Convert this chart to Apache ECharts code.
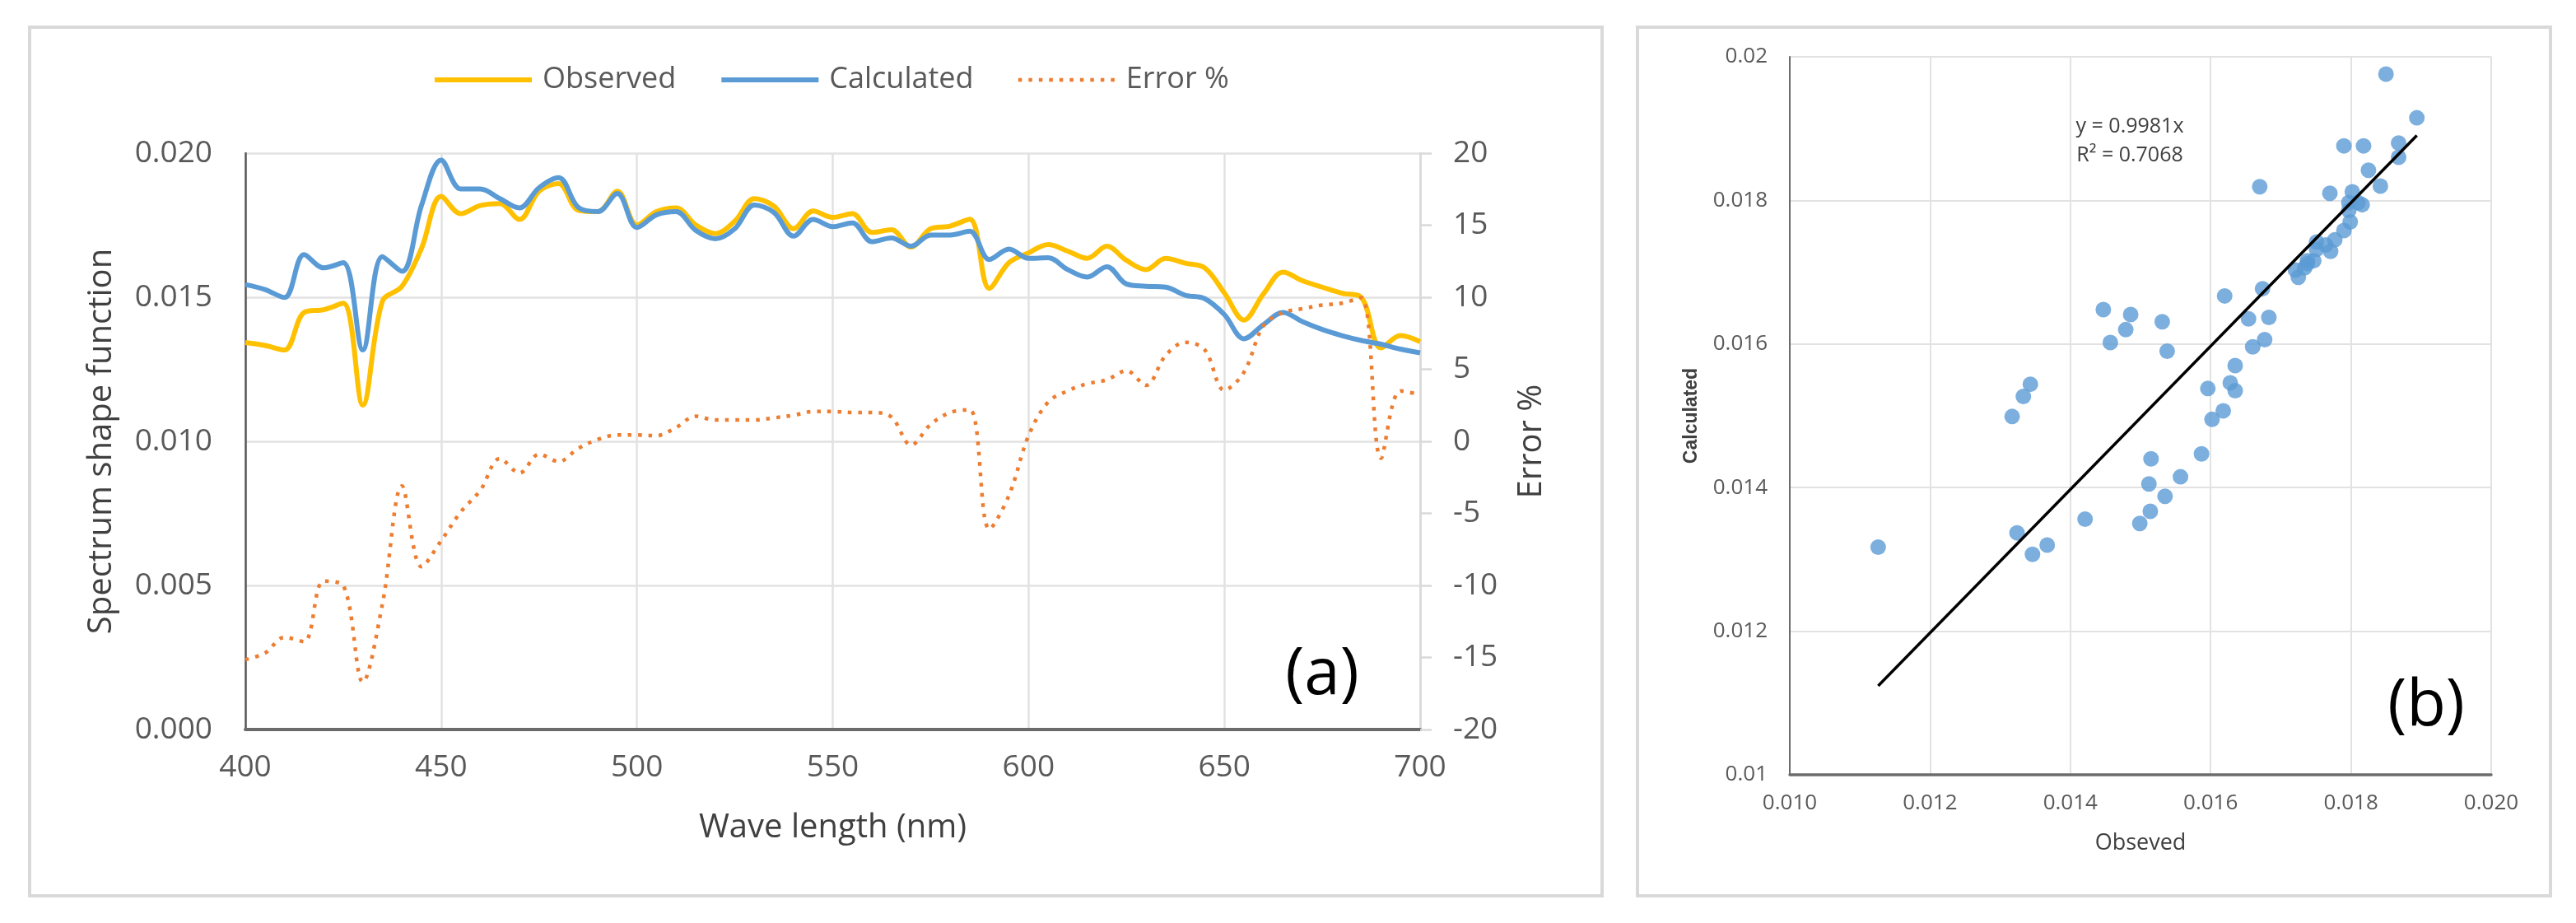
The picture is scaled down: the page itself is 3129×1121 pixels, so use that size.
<!DOCTYPE html>
<html>
<head>
<meta charset="utf-8">
<script src="https://cdn.jsdelivr.net/npm/echarts@6/dist/echarts.min.js"></script>
<style>
  html, body { margin: 0; padding: 0; background: #ffffff; }
  #main { width: 3129px; height: 1121px; }
</style>
</head>
<body>
<div id="main"></div>
<script>
// ---------- data ----------
const wavelength = [400,405,410,415,420,425,430,435,440,445,450,455,460,465,470,475,480,485,490,495,
  500,505,510,515,520,525,530,535,540,545,550,555,560,565,570,575,580,585,590,595,
  600,605,610,615,620,625,630,635,640,645,650,655,660,665,670,675,680,685,690,695,700];

const observed = [0.01343,0.01333,0.01317,0.01447,0.01457,0.01479,0.01126,0.01486,0.01538,0.01670,
  0.01850,0.01790,0.01818,0.01825,0.01770,0.01868,0.01894,0.01802,0.01797,0.01868,
  0.01751,0.01797,0.01810,0.01751,0.01721,0.01764,0.01842,0.01816,0.01738,0.01799,
  0.01777,0.01790,0.01725,0.01734,0.01674,0.01738,0.01747,0.01771,0.01531,0.01620,
  0.01654,0.01683,0.01660,0.01635,0.01677,0.01628,0.01596,0.01635,0.01618,0.01602,
  0.01515,0.01421,0.01512,0.01587,0.01557,0.01535,0.01514,0.01499,0.01324,0.01367,0.01346];

const calculated = [0.01544,0.01527,0.01499,0.01648,0.01602,0.01620,0.01317,0.01641,0.01590,0.01819,
  0.01976,0.01876,0.01876,0.01842,0.01810,0.01880,0.01915,0.01812,0.01797,0.01860,
  0.01742,0.01786,0.01797,0.01732,0.01703,0.01738,0.01820,0.01794,0.01712,0.01770,
  0.01745,0.01758,0.01693,0.01706,0.01677,0.01716,0.01716,0.01729,0.01631,0.01667,
  0.01635,0.01637,0.01596,0.01570,0.01606,0.01546,0.01538,0.01535,0.01507,0.01495,
  0.01440,0.01356,0.01405,0.01447,0.01415,0.01388,0.01367,0.01350,0.01337,0.01320,0.01307];

const errorPct = [-15.15,-14.7,-13.6,-13.9,-9.7,-10.0,-16.7,-11.3,-3.1,-8.7,
  -6.9,-4.9,-3.4,-1.2,-2.2,-0.9,-1.4,-0.5,0.13,0.44,
  0.44,0.39,0.96,1.74,1.48,1.48,1.48,1.63,1.81,2.07,
  2.07,2.0,2.0,1.68,-0.26,1.17,2.0,2.2,-6.09,-3.76,
  0.39,2.72,3.5,4.0,4.27,4.9,3.89,5.96,6.87,6.35,
  3.55,4.79,8.03,8.94,9.2,9.46,9.59,9.97,-1.17,3.5,3.24];

const seriesNames = ['Observed', 'Calculated', 'Error %'];
const trendSlope = 0.9981;
const trendText = ['y = 0.9981x', 'R\u00B2 = 0.7068'];
const panelLabels = ['(a)', '(b)'];

// ---------- chart ----------
const FONT = "'Open Sans', 'Noto Sans', sans-serif";
const TICK = '#595959';
const TITLE = '#404040';
const GRIDC = '#e2e2e2';
const COL_OBS = '#FFC000';
const COL_CALC = '#5B9BD5';
const COL_ERR = '#ED7D31';
const ERR_DASH = [4.5, 8];

const pairs = (xs, ys) => xs.map((x, i) => [x, ys[i]]);
const obsMin = Math.min(...observed);
const obsMax = Math.max(...observed);

const chart = echarts.init(document.getElementById('main'), null, { renderer: 'canvas', width: 3129, height: 1121 });

const option = {
  backgroundColor: '#ffffff',
  animation: false,
  graphic: [
    { type: 'rect', shape: { x: 36, y: 33, width: 1910, height: 1055 }, style: { fill: 'none', stroke: '#d9d9d9', lineWidth: 4 }, z: -10 },
    { type: 'rect', shape: { x: 1989, y: 33, width: 1109, height: 1055 }, style: { fill: 'none', stroke: '#d9d9d9', lineWidth: 4 }, z: -10 },
    { type: 'text', x: 1606, y: 821, style: { text: panelLabels[0], fontSize: 78, fontFamily: FONT, fill: '#000', align: 'center', verticalAlign: 'middle' }, z: 10 },
    { type: 'text', x: 2947, y: 859, style: { text: panelLabels[1], fontSize: 78, fontFamily: FONT, fill: '#000', align: 'center', verticalAlign: 'middle' }, z: 10 },
    { type: 'text', x: 2587, y: 154, style: { text: trendText[0], fontSize: 25, fontFamily: FONT, fill: TITLE, align: 'center', verticalAlign: 'middle' }, z: 10 },
    { type: 'text', x: 2587, y: 189, style: { text: trendText[1], fontSize: 25, fontFamily: FONT, fill: TITLE, align: 'center', verticalAlign: 'middle' }, z: 10 }
  ],
  legend: {
    data: [
      { name: seriesNames[0], itemStyle: { opacity: 0 }, lineStyle: { color: COL_OBS, width: 6 } },
      { name: seriesNames[1], itemStyle: { opacity: 0 }, lineStyle: { color: COL_CALC, width: 6 } },
      { name: seriesNames[2], itemStyle: { opacity: 0 }, lineStyle: { color: COL_ERR, width: 4.5, type: ERR_DASH, cap: 'butt' } }
    ],
    left: 520,
    top: 74,
    itemWidth: 118,
    itemHeight: 20,
    itemGap: 52,
    textStyle: { fontSize: 36, fontFamily: FONT, color: TICK, padding: [0, 0, 0, 8] }
  },
  grid: [
    { left: 298, top: 186, width: 1427, height: 700 },
    { left: 2174, top: 69, width: 852, height: 872 }
  ],
  xAxis: [
    {
      gridIndex: 0, type: 'value', min: 400, max: 700, interval: 50,
      name: 'Wave length (nm)', nameLocation: 'middle', nameGap: 100,
      nameTextStyle: { fontSize: 40, color: TITLE, fontFamily: FONT },
      axisLine: { show: true, onZero: false, lineStyle: { color: '#6b6b6b', width: 4 } },
      axisTick: { show: false },
      axisLabel: { fontSize: 37, color: TICK, fontFamily: FONT, margin: 28 },
      splitLine: { show: true, lineStyle: { color: GRIDC, width: 2.5 } }
    },
    {
      gridIndex: 1, type: 'value', min: 0.010, max: 0.020, interval: 0.002,
      name: 'Obseved', nameLocation: 'middle', nameGap: 70,
      nameTextStyle: { fontSize: 27, color: TITLE, fontFamily: FONT },
      axisLine: { show: true, onZero: false, lineStyle: { color: '#6b6b6b', width: 3.5 } },
      axisTick: { show: false },
      axisLabel: { fontSize: 26, color: TICK, fontFamily: FONT, margin: 22, formatter: v => v.toFixed(3) },
      splitLine: { show: true, lineStyle: { color: GRIDC, width: 2 } }
    }
  ],
  yAxis: [
    {
      gridIndex: 0, type: 'value', position: 'left', min: 0, max: 0.02, interval: 0.005,
      name: 'Spectrum shape function', nameLocation: 'middle', nameGap: 154, nameRotate: 90,
      nameTextStyle: { fontSize: 40, color: TITLE, fontFamily: FONT },
      axisLine: { show: true, onZero: false, lineStyle: { color: '#595959', width: 2.5 } },
      axisTick: { show: false },
      axisLabel: { fontSize: 37, color: TICK, fontFamily: FONT, margin: 40, formatter: v => v.toFixed(3) },
      splitLine: { show: true, lineStyle: { color: GRIDC, width: 2.5 } }
    },
    {
      gridIndex: 0, type: 'value', position: 'right', min: -20, max: 20, interval: 5,
      name: 'Error %', nameLocation: 'middle', nameGap: 116, nameRotate: 90,
      nameTextStyle: { fontSize: 40, color: TITLE, fontFamily: FONT },
      axisLine: { show: true, onZero: false, lineStyle: { color: '#d9d9d9', width: 2.5 } },
      axisTick: { show: true, length: 14, lineStyle: { color: '#d9d9d9', width: 2.5 } },
      axisLabel: { fontSize: 37, color: TICK, fontFamily: FONT, margin: 40 },
      splitLine: { show: false }
    },
    {
      gridIndex: 1, type: 'value', position: 'left', min: 0.010, max: 0.020, interval: 0.002,
      name: 'Calculated', nameLocation: 'middle', nameGap: 108, nameRotate: 90,
      nameTextStyle: { fontSize: 23, color: TITLE, fontFamily: "'Liberation Sans', Arial, sans-serif", fontWeight: 'bold' },
      axisLine: { show: true, onZero: false, lineStyle: { color: '#6b6b6b', width: 2 } },
      axisTick: { show: false },
      axisLabel: { fontSize: 26, color: TICK, fontFamily: FONT, margin: 27, formatter: v => String(+v.toFixed(3)) },
      splitLine: { show: true, lineStyle: { color: GRIDC, width: 2 } }
    }
  ],
  series: [
    {
      name: seriesNames[0], type: 'line', xAxisIndex: 0, yAxisIndex: 0,
      data: pairs(wavelength, observed), smooth: 0.35, symbol: 'none',
      lineStyle: { color: COL_OBS, width: 6 }, itemStyle: { color: COL_OBS }, z: 3
    },
    {
      name: seriesNames[1], type: 'line', xAxisIndex: 0, yAxisIndex: 0,
      data: pairs(wavelength, calculated), smooth: 0.35, symbol: 'none',
      lineStyle: { color: COL_CALC, width: 6 }, itemStyle: { color: COL_CALC }, z: 4
    },
    {
      name: seriesNames[2], type: 'line', xAxisIndex: 0, yAxisIndex: 1,
      data: pairs(wavelength, errorPct), smooth: 0.35, symbol: 'none',
      lineStyle: { color: COL_ERR, width: 4.5, type: ERR_DASH, cap: 'butt' }, itemStyle: { color: COL_ERR }, z: 5
    },
    {
      type: 'scatter', xAxisIndex: 1, yAxisIndex: 2,
      data: pairs(observed, calculated), symbolSize: 19,
      itemStyle: { color: COL_CALC }, z: 3
    },
    {
      type: 'line', xAxisIndex: 1, yAxisIndex: 2,
      data: [[obsMin, trendSlope * obsMin], [obsMax, trendSlope * obsMax]],
      symbol: 'none', lineStyle: { color: '#000000', width: 3.5 }, z: 6
    }
  ]
};
chart.setOption(option);
</script>
</body>
</html>
